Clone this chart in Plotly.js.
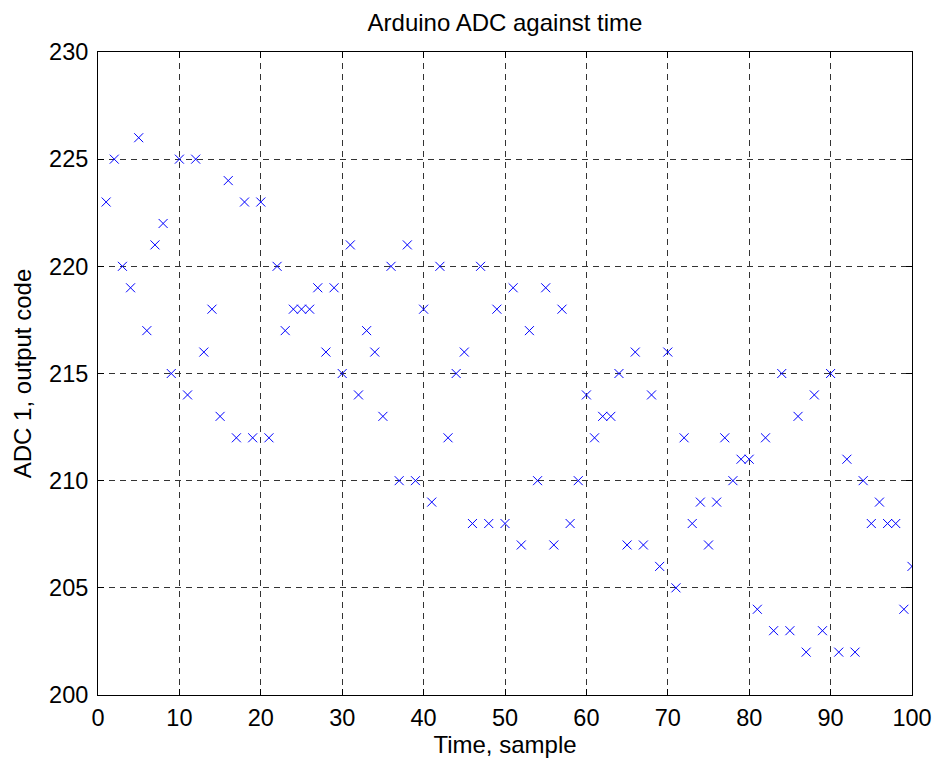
<!DOCTYPE html>
<html>
<head>
<meta charset="utf-8">
<script src="https://cdn.plot.ly/plotly-3.0.1.min.js"></script>
<style>html,body{margin:0;padding:0;background:#fff;}#chart{width:935px;height:759px;}</style>
</head>
<body>
<div id="chart"></div>
<script>
const samples = Array.from({length: 100}, (_, i) => i + 1);
const adcValues = [
  223, 225, 220, 219, 226, 217, 221, 222, 215, 225,
  214, 225, 216, 218, 213, 224, 212, 223, 212, 223,
  212, 220, 217, 218, 218, 218, 219, 216, 219, 215,
  221, 214, 217, 216, 213, 220, 210, 221, 210, 218,
  209, 220, 212, 215, 216, 208, 220, 208, 218, 208,
  219, 207, 217, 210, 219, 207, 218, 208, 210, 214,
  212, 213, 213, 215, 207, 216, 207, 214, 206, 216,
  205, 212, 208, 209, 207, 209, 212, 210, 211, 211,
  204, 212, 203, 215, 203, 213, 202, 214, 203, 215,
  202, 211, 202, 210, 208, 209, 208, 208, 204, 206
];
const xTicks = [0, 10, 20, 30, 40, 50, 60, 70, 80, 90, 100];
const yTicks = [200, 205, 210, 215, 220, 225, 230];

const font = {family: 'Liberation Sans, Arial, sans-serif', color: '#000'};

const trace = {
  x: samples, y: adcValues, type: 'scatter', mode: 'markers',
  marker: {symbol: 'x-thin-open', size: 9, color: '#0000ff', line: {color: '#0000ff', width: 1}},
  hoverinfo: 'skip'
};

const axisCommon = {
  showline: true, linecolor: '#000', linewidth: 1, mirror: 'allticks',
  ticks: 'inside', ticklen: 6, tickcolor: '#000', tickwidth: 1,
  showgrid: true, gridcolor: '#333', gridwidth: 1, griddash: '6px,5px',
  zeroline: false, tickfont: Object.assign({size: 23.5}, font)
};

const layout = {
  width: 935, height: 759,
  margin: {l: 98, r: 23, t: 52, b: 64},
  paper_bgcolor: '#fff', plot_bgcolor: '#fff',
  showlegend: false,
  title: {text: 'Arduino ADC against time', font: Object.assign({size: 24}, font),
          xref: 'paper', x: 0.5, xanchor: 'center', yref: 'paper', y: 1, yanchor: 'bottom', pad: {b: 21}},
  xaxis: Object.assign({}, axisCommon, {
    range: [0, 100], tickvals: xTicks, ticktext: xTicks.map(String), ticklabelstandoff: 2,
    title: {text: 'Time, sample', font: Object.assign({size: 24}, font), standoff: 4}
  }),
  yaxis: Object.assign({}, axisCommon, {
    range: [200, 230], tickvals: yTicks, ticktext: yTicks.map(String), ticklabelstandoff: 4,
    title: {text: 'ADC 1, output code', font: Object.assign({size: 24}, font), standoff: 10}
  })
};

Plotly.newPlot('chart', [trace], layout, {displayModeBar: false, staticPlot: true});
</script>
</body>
</html>
